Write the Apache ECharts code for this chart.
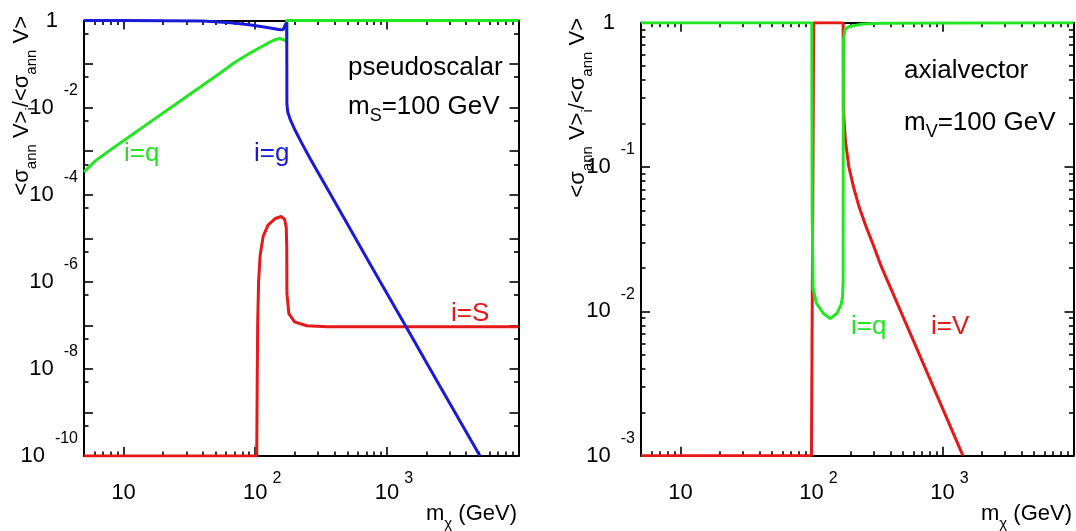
<!DOCTYPE html>
<html>
<head>
<meta charset="utf-8">
<script src="https://cdn.jsdelivr.net/npm/echarts@6/dist/echarts.min.js"></script>
<style>
html,body{margin:0;padding:0;background:#fff;}
#main{width:1076px;height:531px;}
</style>
</head>
<body>
<div id="main"></div>
<script>
// pseudoscalar mediator, m_S = 100 GeV : fraction of <sigma v> per channel
var psMassQ = [5, 6.1, 7.93, 11.24, 15.95, 24.7, 38.2, 54.2, 70.5, 91.6, 109.1, 125.6, 139.4, 152.1, 163.2, 173.4, 173.5, 10000];
var psFracQ = [3.35e-4, 5.99e-4, 1.07e-3, 2.24e-3, 4.7e-3, 0.0118, 0.0298, 0.0625, 0.1117, 0.18, 0.24, 0.305, 0.357, 0.387, 0.367, 0.33, 1, 1];

var psMassG = [5, 10, 20, 40, 65, 90, 120, 155, 163, 169, 173.5, 174, 176.5, 185, 200, 225, 261, 300, 353, 477, 749, 1392, 2500, 5100];
var psFracG = [0.998, 0.997, 0.99, 0.97, 0.89, 0.8, 0.7, 0.61, 0.62, 0.8, 0.9, 0.012, 7.9e-3, 5.2e-3, 3.1e-3, 1.55e-3, 6.8e-4, 3.24e-4, 1.37e-4, 2.77e-5, 2.5e-6, 9.5e-8, 4.25e-9, 1e-10];

var psMassS = [5, 102.6, 103.4, 104.3, 106, 108.9, 115, 125, 141, 157, 167, 172, 173.5, 174, 180, 199, 246, 352, 10000];
var psFracS = [1e-10, 1e-10, 3.2e-9, 1e-7, 1e-6, 4e-6, 1.12e-5, 2.0e-5, 2.8e-5, 3.16e-5, 2.75e-5, 1.78e-5, 6.3e-6, 5.4e-7, 1.86e-7, 1.2e-7, 9.8e-8, 9.3e-8, 9.3e-8];

// axialvector mediator, m_V = 100 GeV
var avMassQ = [5, 100.6, 100.9, 101.2, 103, 109, 123, 139, 156.5, 168, 172.5, 174.5, 174.8, 175.5, 181, 195, 246, 340, 1000, 10000];
var avFracQ = [1, 1, 0.3, 0.05, 0.0145, 0.0114, 0.0097, 0.0089, 0.0097, 0.0111, 0.0125, 0.016, 0.3, 0.76, 0.9, 0.94, 0.98, 0.99, 0.997, 1];

var avMassV = [5, 100, 104, 174.5, 175.3, 182, 193, 210, 231, 260, 293, 341, 534, 1432];
var avFracV = [0.001, 0.001, 1, 1, 0.25, 0.15, 0.1, 0.072, 0.053, 0.039, 0.0296, 0.0205, 0.008, 0.001];

// axis ticks and labels
var xMajorTicks = [10, 100, 1000, 10000];
var xMinorTicks = [6, 7, 8, 9, 20, 30, 40, 50, 60, 70, 80, 90, 200, 300, 400, 500, 600, 700, 800, 900,
                   2000, 3000, 4000, 5000, 6000, 7000, 8000, 9000];
var xLabelExps = [1, 2, 3];
var psMajorTicks = [1, 1e-1, 1e-2, 1e-3, 1e-4, 1e-5, 1e-6, 1e-7, 1e-8, 1e-9, 1e-10];
var psMinorTicks = [0.5, 0.05, 5e-3, 5e-4, 5e-5, 5e-6, 5e-7, 5e-8, 5e-9, 5e-10];
var psLabelExps = [0, -2, -4, -6, -8, -10];
var avMajorTicks = [1, 0.1, 0.01, 0.001];
var avMinorTicks = [0.9, 0.8, 0.7, 0.6, 0.5, 0.4, 0.3, 0.2,
                    0.09, 0.08, 0.07, 0.06, 0.05, 0.04, 0.03, 0.02,
                    0.009, 0.008, 0.007, 0.006, 0.005, 0.004, 0.003, 0.002];
var avLabelExps = [0, -1, -2, -3];

var FONT = 'Liberation Sans';
var GREEN = '#22e622', BLUE = '#1a1ad8', RED = '#e61919';

function pairs(xs, ys){
    return xs.map(function(x, i){ return [x, ys[i]]; });
}
function lg(arr){
    return arr.map(function(v){ return Math.log10(v); });
}

var xRich = {
    q: {width: 0, height: 33, lineHeight: 33},
    p: {width: 14, height: 33, lineHeight: 33},
    b: {fontSize: 22, fontFamily: FONT, color: '#000', lineHeight: 24, verticalAlign: 'bottom'},
    s: {fontSize: 16, fontFamily: FONT, color: '#000', lineHeight: 16, verticalAlign: 'top', padding: [0, 0, 0, 5]}
};
var yRich = {
    b: {fontSize: 22, fontFamily: FONT, color: '#000', lineHeight: 50},
    s: {fontSize: 16, fontFamily: FONT, color: '#000', lineHeight: 16, verticalAlign: 'top', padding: [0, 0, 0, 10]},
    g: {width: 20, height: 10}
};
function xFmt(v){
    if (v === 1) return '{q|}{b|10}';
    return '{p|}{b|10}{s|' + v + '}';
}
function yFmt(v){
    if (v === 0) return '{b|1}{g|}';
    return '{b|10}{s|' + v + '}';
}

// frame, ticks and labels are drawn by value axes in log10 space
function decoAxes(grid, dim, min, max, major, minor, labels, fmt, rich, margin){
    var pos = dim === 'x' ? ['bottom', 'top'] : ['left', 'right'];
    var out = [];
    pos.forEach(function(p, k){
        out.push({
            type: 'value', gridIndex: grid, position: p, min: min, max: max,
            axisLine: {show: true, onZero: false, lineStyle: {color: '#000', width: 2}},
            axisTick: {show: true, inside: true, length: 9, customValues: major, lineStyle: {color: '#000', width: 1.6}},
            axisLabel: {show: k === 0, customValues: labels, formatter: fmt, rich: rich, margin: margin,
                        fontFamily: FONT, fontSize: 22, color: '#000'},
            splitLine: {show: false}
        });
        out.push({
            type: 'value', gridIndex: grid, position: p, min: min, max: max,
            axisLine: {show: false, onZero: false},
            axisTick: {show: true, inside: true, length: 4.5, customValues: minor, lineStyle: {color: '#000', width: 1.6}},
            axisLabel: {show: false},
            splitLine: {show: false}
        });
    });
    return out;
}

var xAxes = [], yAxes = [];
[0, 1].forEach(function(g){
    xAxes.push({type: 'log', logBase: 10, gridIndex: g, min: 5, max: 10000, show: false,
                axisLine: {onZero: false}});
    xAxes = xAxes.concat(decoAxes(g, 'x', Math.log10(5), 4, lg(xMajorTicks), lg(xMinorTicks), xLabelExps, xFmt, xRich, 15));
});
yAxes.push({type: 'log', logBase: 10, gridIndex: 0, min: 1e-10, max: 1, show: false, axisLine: {onZero: false}});
yAxes = yAxes.concat(decoAxes(0, 'y', -10, 0, lg(psMajorTicks), lg(psMinorTicks), psLabelExps, yFmt, yRich, 6));
yAxes.push({type: 'log', logBase: 10, gridIndex: 1, min: 1e-3, max: 1, show: false, axisLine: {onZero: false}});
yAxes = yAxes.concat(decoAxes(1, 'y', -3, 0, lg(avMajorTicks), lg(avMinorTicks), avLabelExps, yFmt, yRich, 6));

function curve(grid, xs, ys, color){
    var ax = grid * 5;
    return {
        type: 'line', xAxisIndex: ax, yAxisIndex: ax, data: pairs(xs, ys),
        symbol: 'none', showSymbol: false, clip: true, z: 5,
        lineStyle: {color: color, width: 3}, itemStyle: {color: color}
    };
}

var annRich = {
    t: {fontSize: 26, fontFamily: FONT, color: '#000', lineHeight: 32, verticalAlign: 'top'},
    u: {fontSize: 18, fontFamily: FONT, color: '#000', verticalAlign: 'bottom'}
};
var titleRich = {
    t: {fontSize: 22, fontFamily: FONT, color: '#000', lineHeight: 28, verticalAlign: 'top'},
    u: {fontSize: 15, fontFamily: FONT, color: '#000', verticalAlign: 'bottom'}
};
function txt(x, y, s, color){
    return {type: 'text', x: x, y: y, z: 10,
            style: {text: s, fontSize: 26, fontFamily: FONT, fill: color || '#000', align: 'left', verticalAlign: 'middle'}};
}
function richTxt(x, y, s, rich, align, rot){
    return {type: 'text', x: x, y: y, z: 10, rotation: rot || 0,
            style: {text: s, rich: rich, align: align, verticalAlign: 'middle'}};
}
var yTitle = '{t|<σ}{u|ann}{t| V>}{u|i}{t|/<σ}{u|ann}{t| V>}';
var xTitle = '{t|m}{u|χ}{t| (GeV)}';

var option = {
    backgroundColor: '#fff',
    animation: false,
    grid: [
        {left: 84, top: 20.5, width: 434.5, height: 435.5, containLabel: false, outerBoundsMode: 'none'},
        {left: 641, top: 22.7, width: 432.5, height: 433, containLabel: false, outerBoundsMode: 'none'}
    ],
    xAxis: xAxes,
    yAxis: yAxes,
    series: [
        curve(0, psMassS, psFracS, RED),
        curve(0, psMassQ, psFracQ, GREEN),
        curve(0, psMassG, psFracG, BLUE),
        curve(1, avMassV, avFracV, RED),
        curve(1, avMassQ, avFracQ, GREEN)
    ],
    graphic: {elements: [
        txt(348, 68, 'pseudoscalar'),
        richTxt(348, 109.5, '{t|m}{u|S}{t|=100 GeV}', annRich, 'left'),
        txt(124, 154, 'i=q', GREEN),
        txt(254, 154, 'i=g', BLUE),
        txt(451, 314, 'i=S', RED),
        txt(904, 71, 'axialvector'),
        richTxt(904, 125.5, '{t|m}{u|V}{t|=100 GeV}', annRich, 'left'),
        txt(851, 327, 'i=q', GREEN),
        txt(931, 327, 'i=V', RED),
        richTxt(517, 517, xTitle, titleRich, 'right'),
        richTxt(1072, 517, xTitle, titleRich, 'right'),
        richTxt(25, 16, yTitle, titleRich, 'right', Math.PI / 2),
        richTxt(581, 18, yTitle, titleRich, 'right', Math.PI / 2)
    ]}
};

var chart = echarts.init(document.getElementById('main'));
chart.setOption(option);
</script>
</body>
</html>
